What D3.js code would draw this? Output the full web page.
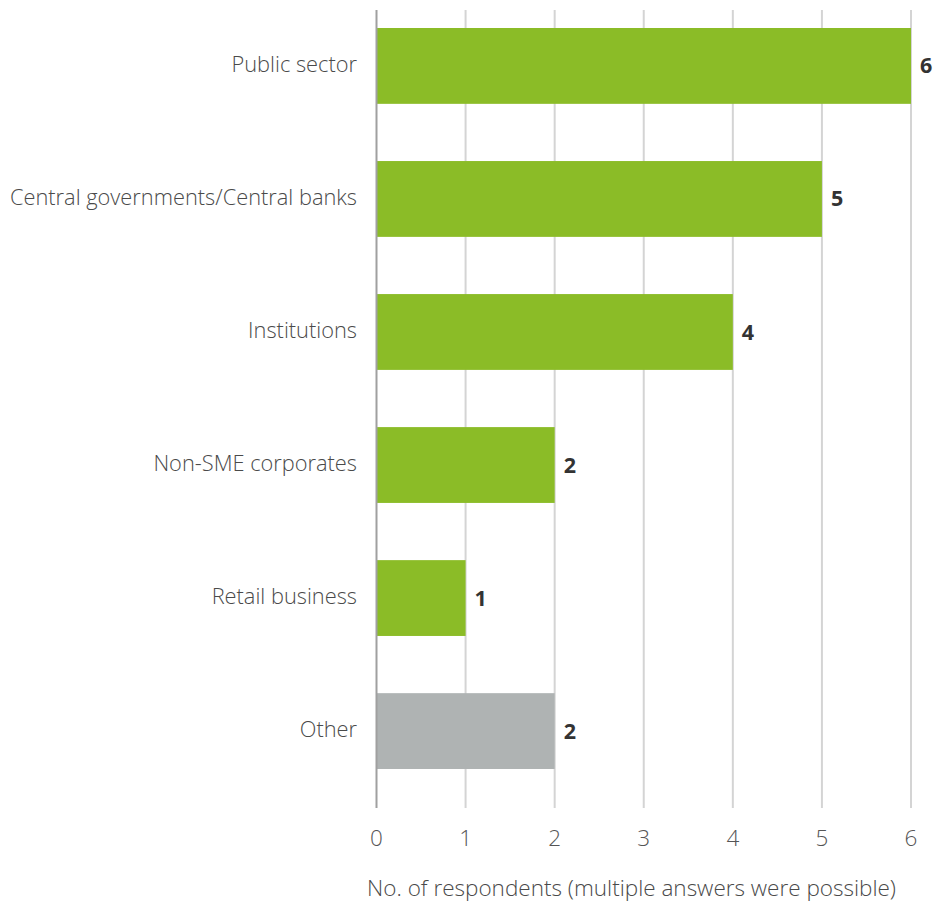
<!DOCTYPE html>
<html><head><meta charset="utf-8">
<script src="https://cdn.jsdelivr.net/npm/d3@7"></script>
<style>body{margin:0;background:#fff}svg{display:block}text{font-family:"Open Sans",sans-serif}</style>
</head><body><svg id="c" width="946" height="905"></svg>
<script>
const categories = ["Public sector","Central governments/Central banks","Institutions","Non-SME corporates","Retail business","Other"];
const values = [6,5,4,2,1,2];
const barColors = ["#8BBC27","#8BBC27","#8BBC27","#8BBC27","#8BBC27","#AFB3B3"];
const xTicks = [0,1,2,3,4,5,6];
const axisTitle = "No. of respondents (multiple answers were possible)";

const svg = d3.select("#c");
const x = d3.scaleLinear().domain([0,6]).range([376.5,911]);
const y = d3.scaleBand().domain(categories).range([1.4,795.6]).paddingInner(0.43).paddingOuter(0.2);

// gridlines
svg.append("g").selectAll("line").data(xTicks.filter(d=>d>0)).join("line")
  .attr("x1",d=>x(d)).attr("x2",d=>x(d)).attr("y1",10).attr("y2",808)
  .attr("stroke","#d4d4d4").attr("stroke-width",2);

// bars
svg.append("g").selectAll("rect").data(values).join("rect")
  .attr("x",x(0)).attr("y",(d,i)=>y(categories[i]))
  .attr("width",d=>x(d)-x(0)).attr("height",y.bandwidth())
  .attr("fill",(d,i)=>barColors[i]);

// zero line
svg.append("line").attr("x1",x(0)).attr("x2",x(0)).attr("y1",10).attr("y2",808)
  .attr("stroke","#a0a0a0").attr("stroke-width",2);

// category labels
svg.append("g").selectAll("text").data(categories).join("text")
  .attr("x",357).attr("y",d=>y(d)+y.bandwidth()/2).attr("dy","0.27em")
  .attr("text-anchor","end").attr("font-size",21.8).attr("font-weight",300).attr("fill","#4a4a4a")
  .text(d=>d);

// value labels
svg.append("g").selectAll("text").data(values).join("text")
  .attr("x",d=>x(d)+9).attr("y",(d,i)=>y(categories[i])+y.bandwidth()/2).attr("dy","0.35em")
  .attr("font-size",21.5).attr("font-weight",700).attr("fill","#333")
  .text(d=>d);

// x tick labels
svg.append("g").selectAll("text").data(xTicks).join("text")
  .attr("x",d=>x(d)).attr("y",838).attr("dy","0.35em").attr("text-anchor","middle")
  .attr("font-size",22.5).attr("font-weight",300).attr("fill","#555")
  .text(d=>d);

svg.append("text").attr("x",631.5).attr("y",888).attr("dy","0.35em").attr("text-anchor","middle")
  .attr("font-size",22.5).attr("font-weight",300).attr("fill","#4a4a4a").text(axisTitle);
</script></body></html>
